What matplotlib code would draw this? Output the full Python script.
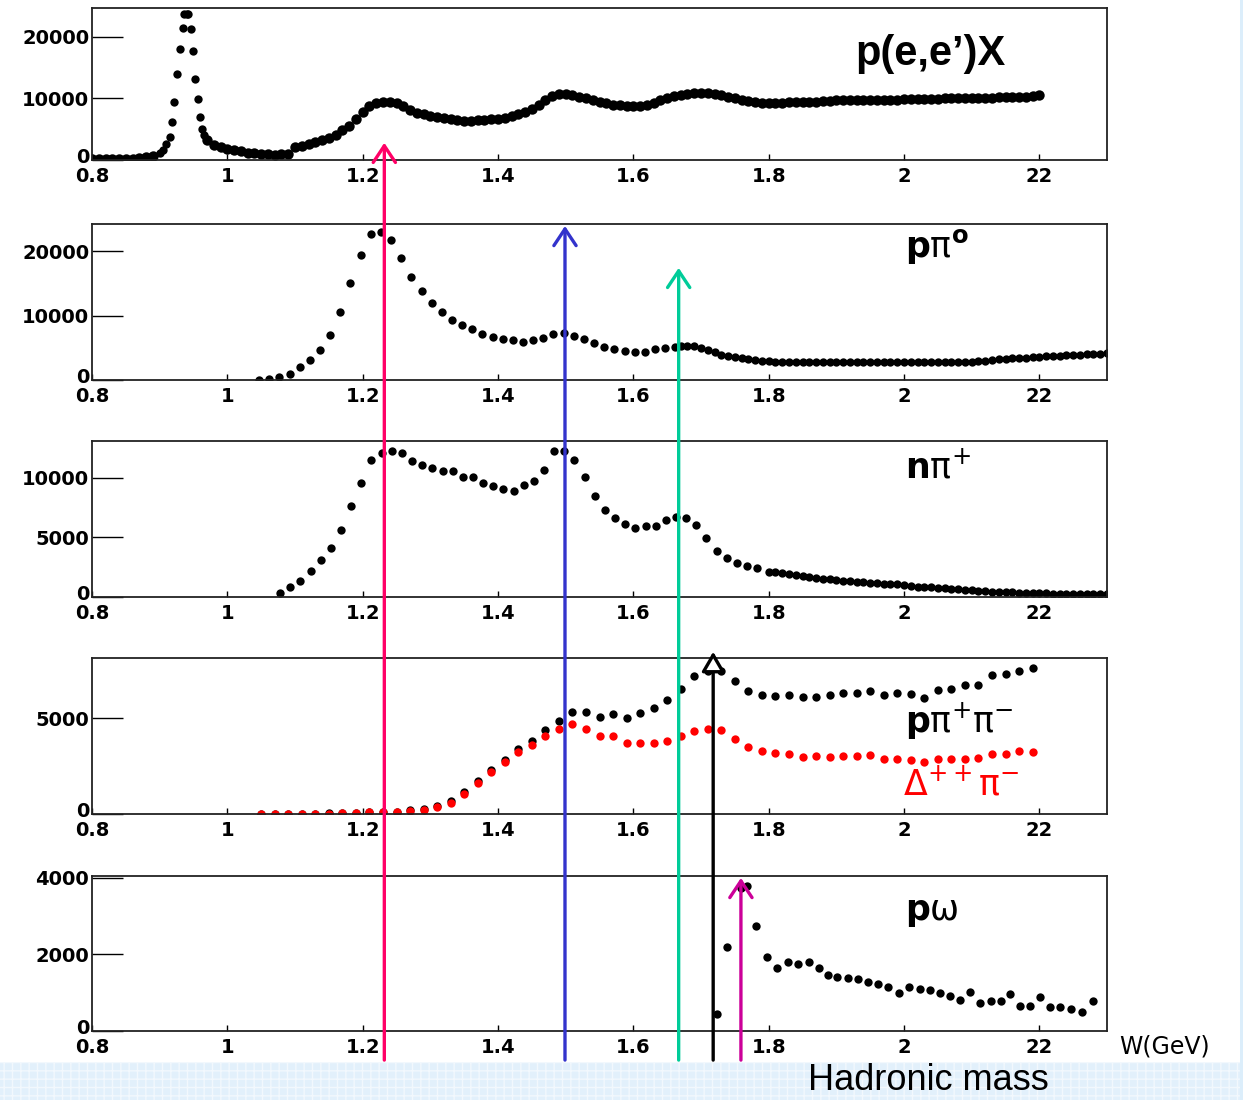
import numpy as np
import matplotlib.pyplot as plt
from matplotlib.patches import ConnectionPatch, Rectangle
from matplotlib.transforms import ScaledTranslation

plt.rcParams['mathtext.default'] = 'regular'

# ---- data ----
# p(e,e')X inclusive
w_incl_low = [0.80, 0.81, 0.82, 0.83, 0.84, 0.85, 0.86, 0.87, 0.88, 0.89]
n_incl_low = [100, 100, 100, 150, 150, 200, 200, 300, 450, 700]
w_incl_peak = [0.900, 0.905, 0.910, 0.915, 0.918, 0.921, 0.925, 0.930, 0.934, 0.936,
               0.940, 0.942, 0.946, 0.949, 0.952, 0.956, 0.959, 0.962, 0.966]
n_incl_peak = [1200, 1700, 2600, 3700, 6200, 9500, 13900, 18100, 21400, 23700,
               23800, 23800, 21300, 17700, 13100, 9900, 7000, 5100, 4100]
w_incl_high = np.round(np.arange(0.97, 2.205, 0.01), 2)
n_incl_high = [3200, 2500, 2100, 1800, 1600, 1400, 1200, 1100, 1000, 900,
               850, 900, 1000, 2100, 2300, 2600, 2900, 3200, 3600, 4100,
               4800, 5600, 6700, 7800, 8700, 9300, 9500, 9500, 9200, 8700,
               8200, 7700, 7400, 7200, 7000, 6800, 6600, 6500, 6400, 6400,
               6500, 6500, 6600, 6700, 6900, 7100, 7400, 7800, 8300, 8900,
               9700, 10400, 10700, 10800, 10600, 10300, 10000, 9700, 9400, 9200,
               9000, 8900, 8800, 8700, 8800, 9000, 9300, 9700, 10100, 10400,
               10600, 10800, 10900, 10900, 10900, 10800, 10600, 10300, 10000, 9800,
               9600, 9400, 9300, 9300, 9300, 9300, 9400, 9400, 9400, 9500,
               9500, 9600, 9600, 9700, 9700, 9700, 9700, 9800, 9800, 9800,
               9800, 9800, 9800, 9900, 9900, 9900, 9900, 9900, 9900, 10000,
               10000, 10000, 10000, 10000, 10100, 10100, 10100, 10200, 10200, 10200,
               10300, 10300, 10400, 10500]

# p pi0
w_ppi0_a = np.round(np.arange(1.047, 1.67, 0.015), 3)
n_ppi0_a = [0, 100, 500, 1000, 2000, 3100, 4650, 7000, 10600, 15000,
            19400, 22600, 23000, 21700, 18900, 16000, 13800, 12000, 10600, 9300,
            8600, 7850, 7100, 6600, 6400, 6200, 5950, 6200, 6550, 7100,
            7250, 6800, 6350, 5700, 5150, 4750, 4500, 4350, 4400, 4750,
            4900, 5150]
w_ppi0_b = np.round(np.arange(1.67, 2.305, 0.01), 2)
n_ppi0_b = [5300, 5300, 5200, 5000, 4600, 4300, 3950, 3700, 3550, 3400,
            3200, 3050, 2950, 2900, 2850, 2850, 2850, 2850, 2850, 2850,
            2850, 2850, 2850, 2850, 2800, 2800, 2800, 2800, 2800, 2800,
            2800, 2800, 2800, 2800, 2800, 2800, 2800, 2800, 2800, 2850,
            2850, 2850, 2850, 2850, 2950, 3000, 3100, 3200, 3250, 3350,
            3400, 3450, 3500, 3550, 3650, 3700, 3750, 3850, 3900, 3950,
            4000, 4050, 4100, 4150]

# n pi+
w_npip_a = np.round(np.arange(1.078, 1.79, 0.015), 3)
n_npip_a = [310, 820, 1340, 2180, 3080, 4090, 5600, 7600, 9600, 11500,
            12080, 12300, 12080, 11430, 11100, 10800, 10600, 10600, 10100, 10100,
            9550, 9330, 9080, 8930, 9410, 9770, 10700, 12300, 12300, 11500,
            10100, 8490, 7310, 6610, 6100, 5820, 6000, 6000, 6470, 6750,
            6600, 6050, 4930, 3870, 3250, 2830, 2630, 2410]
w_npip_b = np.round(np.arange(1.80, 2.305, 0.01), 2)
n_npip_b = [2130, 2070, 2050, 1950, 1850, 1750, 1650, 1600, 1530, 1500,
            1450, 1380, 1350, 1300, 1280, 1200, 1150, 1100, 1080, 1050,
            1000, 920, 880, 820, 800, 750, 730, 690, 650, 600,
            570, 530, 500, 450, 430, 400, 390, 370, 360, 340,
            310, 300, 290, 280, 270, 250, 250, 240, 250, 230,
            220]

# p pi+ pi- and Delta++ pi-
w_2pi = np.round(np.arange(1.05, 2.195, 0.02), 2)
n_2pi = [0, 0, 0, 0, 20, 30, 50, 70, 100, 120,
         120, 200, 260, 420, 680, 1120, 1700, 2290, 2810, 3390,
         3820, 4380, 4860, 5290, 5290, 5070, 5210, 4990, 5250, 5510,
         5940, 6490, 7190, 7460, 7460, 6930, 6420, 6200, 6150, 6200,
         6080, 6100, 6200, 6290, 6290, 6410, 6200, 6290, 6250, 6060,
         6460, 6510, 6720, 6720, 7240, 7280, 7470, 7590]
n_delta = [0, 0, 0, 0, 10, 20, 40, 60, 80, 90,
           80, 160, 210, 350, 590, 1030, 1590, 2170, 2720, 3240,
           3590, 4060, 4430, 4690, 4430, 4080, 4080, 3720, 3720, 3720,
           3820, 4060, 4340, 4430, 4380, 3890, 3470, 3280, 3190, 3100,
           2990, 3000, 2990, 3010, 3020, 3060, 2890, 2860, 2810, 2690,
           2890, 2860, 2890, 2930, 3110, 3110, 3280, 3210]

# p omega
w_pomega = [1.723, 1.738, 1.759, 1.768, 1.782, 1.797, 1.813, 1.829, 1.844, 1.859,
            1.874, 1.888, 1.901, 1.917, 1.932, 1.947, 1.962, 1.977, 1.992, 2.007,
            2.023, 2.038, 2.053, 2.068, 2.083, 2.098, 2.113, 2.129, 2.144, 2.156,
            2.171, 2.186, 2.201, 2.216, 2.231, 2.247, 2.263, 2.279]
n_pomega = [440, 2190, 3730, 3790, 2750, 1930, 1640, 1810, 1750, 1810,
            1640, 1460, 1400, 1380, 1370, 1290, 1230, 1140, 1000, 1160,
            1090, 1070, 990, 920, 810, 1030, 720, 790, 790, 970,
            660, 660, 880, 640, 640, 580, 500, 790]

x_ticks = [0.8, 1.0, 1.2, 1.4, 1.6, 1.8, 2.0, 2.2]
x_ticklabels = ['0.8', '1', '1.2', '1.4', '1.6', '1.8', '2', '22']

# resonance arrows: W, panel index, height of the arrow tip in that panel
arrow_w = [1.232, 1.499, 1.667, 1.718, 1.759]
arrow_panel = [0, 1, 1, 3, 4]
arrow_tip = [2800, 23900, 17400, 8450, 4000]
arrow_col = ['#ff0066', '#3333cc', '#00cc99', 'black', '#cc0099']

# ---- figure ----
W_PX, H_PX = 1243.0, 1100.0
fig = plt.figure(figsize=(12.43, 11), dpi=100)

# background strips (slide template)
fig.add_artist(Rectangle((0, 0), 1, 38 / H_PX, transform=fig.transFigure,
                         facecolor='#e2f0fb', edgecolor='#f2f8fd', hatch='++',
                         lw=0, zorder=0))
fig.add_artist(Rectangle((1240 / W_PX, 0), 3 / W_PX, 1, transform=fig.transFigure,
                         facecolor='#dceefb', lw=0, zorder=0))

panels = [(8, 160, 24700, [0, 10000, 20000]),
          (224, 380, 24200, [0, 10000, 20000]),
          (441, 597, 13100, [0, 5000, 10000]),
          (658, 814, 8125, [0, 5000]),
          (876, 1031, 4050, [0, 2000, 4000])]

tick_font = dict(family='DejaVu Sans', weight='bold', size=14)
lift = ScaledTranslation(0, 3 / 72, fig.dpi_scale_trans)
axes = []
for top, bot, ymax, yt in panels:
    ax = fig.add_axes([92 / W_PX, 1 - bot / H_PX, 1015 / W_PX, (bot - top) / H_PX])
    ax.set_xlim(0.8, 2.3)
    ax.set_ylim(0, ymax)
    ax.set_xticks(x_ticks)
    ax.set_xticklabels(x_ticklabels, fontdict=tick_font)
    ax.set_yticks(yt)
    ax.set_yticklabels([str(v) for v in yt], fontdict=tick_font)
    ax.tick_params(axis='y', direction='in', length=22, width=1.0, pad=2)
    ax.tick_params(axis='x', direction='in', length=4, width=1.0, pad=5)
    zero_lab = ax.get_yticklabels()[0]
    zero_lab.set_transform(zero_lab.get_transform() + lift)
    for s in ax.spines.values():
        s.set_linewidth(1.3)
        s.set_color('#222222')
    ax.patch.set_alpha(0)
    axes.append(ax)

mk = dict(ls='none', marker='o', ms=6, mec='none')
dense = dict(ls='none', marker='o', ms=7.5, mec='none')
ax1, ax2, ax3, ax4, ax5 = axes
ax1.plot(w_incl_low, n_incl_low, color='black', **dense)
ax1.plot(w_incl_peak, n_incl_peak, color='black', **mk)
ax1.plot(w_incl_high, n_incl_high, color='black', **dense)
ax2.plot(w_ppi0_a, n_ppi0_a, color='black', **mk)
ax2.plot(w_ppi0_b, n_ppi0_b, color='black', **mk)
ax3.plot(w_npip_a, n_npip_a, color='black', **mk)
ax3.plot(w_npip_b, n_npip_b, color='black', **mk)
ax4.plot(w_2pi, n_2pi, color='black', **mk)
ax4.plot(w_2pi, n_delta, color='#ff0000', **mk)
ax5.plot(w_pomega, n_pomega, color='black', **mk)

ax1.text(0.752, 0.625, "p(e,e’)X", transform=ax1.transAxes, fontsize=30,
         fontweight='bold', family='Liberation Sans')
ax2.text(0.801, 0.79, r'$\mathbf{p}\pi^{\mathbf{o}}$', transform=ax2.transAxes, fontsize=25)
ax3.text(0.801, 0.763, r'$\mathbf{n}\pi^{+}$', transform=ax3.transAxes, fontsize=25)
ax4.text(0.801, 0.526, r'$\mathbf{p}\pi^{+}\pi^{-}$', transform=ax4.transAxes, fontsize=25)
ax4.text(0.799, 0.12, r'$\Delta^{++}\pi^{-}$', transform=ax4.transAxes,
         fontsize=25, color='#ff0000')
ax5.text(0.801, 0.716, r'$\mathbf{p}\omega$', transform=ax5.transAxes, fontsize=25)

ax5.text(1.012, -0.1, 'W(GeV)', transform=ax5.transAxes, fontsize=17,
         family='DejaVu Sans', ha='left', va='center')
fig.text(928 / W_PX, 1 - 1081 / H_PX, 'Hadronic mass', fontsize=26,
         family='Liberation Sans', ha='center', va='center')

# arrows from below the last panel up to each resonance
y_foot = -760
for w, k, tip, c in zip(arrow_w, arrow_panel, arrow_tip, arrow_col):
    if c == 'black':
        style = '-|>,head_length=0.6,head_width=0.35'
    else:
        style = '->,head_length=0.6,head_width=0.4'
    con = ConnectionPatch(xyA=(w, y_foot), coordsA=ax5.transData,
                          xyB=(w, tip), coordsB=axes[k].transData,
                          arrowstyle=style, color=c, lw=2.4,
                          mutation_scale=20, shrinkA=0, shrinkB=0,
                          fc='white' if c == 'black' else c, zorder=10)
    fig.add_artist(con)

fig.savefig('out.png', dpi=100)
